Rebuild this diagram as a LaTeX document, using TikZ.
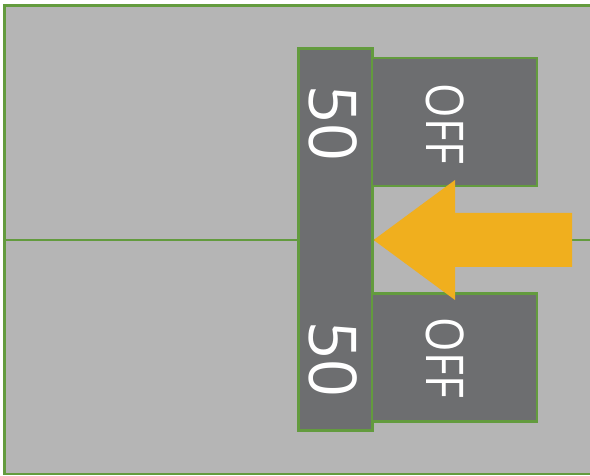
\documentclass[tikz,border=0pt]{standalone}
\usepackage{fontspec}
\setsansfont{Open Sans}
\usetikzlibrary{positioning}

\definecolor{panelgray}{HTML}{B5B5B5}
\definecolor{switchgray}{HTML}{6D6E70}
\definecolor{edgegreen}{HTML}{639B3E}
\definecolor{pushorange}{HTML}{F0AF1E}

\begin{document}
\begin{tikzpicture}[
  x=1pt, y=-1pt,
  font=\sffamily,
  panel/.style={fill=panelgray, draw=edgegreen, line width=2.5pt},
  divider/.style={draw=edgegreen, line width=2pt},
  handlebar/.style={draw=edgegreen, fill=switchgray, line width=2.2pt, minimum width=74pt, minimum height=382pt, inner sep=0pt},
  offbox/.style={draw=edgegreen, fill=switchgray, line width=2.2pt, minimum width=165pt, minimum height=128pt, inner sep=0pt},
  rating/.style={text=white, rotate=-90, inner sep=0pt, font=\sffamily\fontsize{66}{66}\selectfont},
  offtext/.style={text=white, rotate=-90, inner sep=0pt, xscale=0.85, font=\sffamily\fontsize{52}{52}\selectfont},
  pusharrow/.style={fill=pushorange}
]
\useasboundingbox (0,0) rectangle (590,476);

% panel halves
\draw[panel] (4.5,5.5) rectangle (610,474);
\coordinate (midleft) at (4.5,240);
\coordinate (midright) at (610,240);
\draw[divider] (midleft) -- (midright);

% breaker handle and switches
\node[handlebar] (handle) at (335.5,239.5) {};
\node[offbox] (topswitch) at (454.5,122) {};
\node[offbox] (botswitch) at (454.5,357.5) {};

\node[rating] (toprating) at (333,123) {50};
\node[rating] (botrating) at (333,359) {50};
\node[offtext] (topoff) at (445,124) {OFF};
\node[offtext] (botoff) at (445,358) {OFF};

% push direction
\coordinate (tip) at (handle.east |- midleft);
\fill[pusharrow] (tip) -- (455,180) -- (455,213) -- (572,213)
  -- (572,267) -- (455,267) -- (455,300) -- cycle;

\end{tikzpicture}
\end{document}
